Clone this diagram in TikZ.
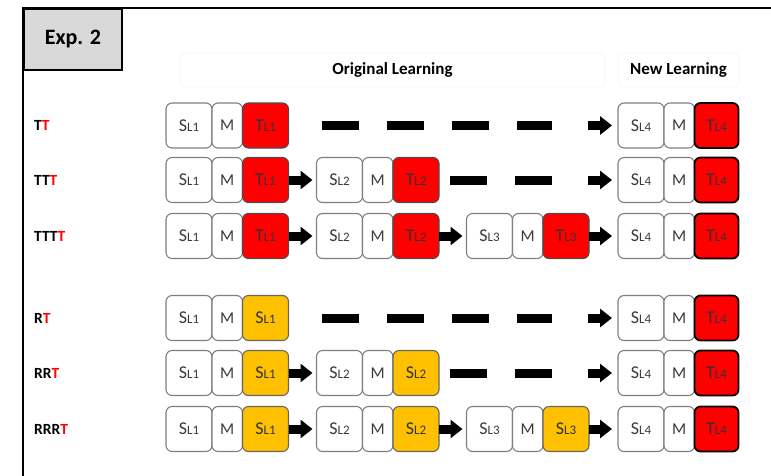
\documentclass[tikz,border=0pt]{standalone}
\usepackage{fontspec}
\setmainfont{Carlito}
\usetikzlibrary{arrows.meta}
\definecolor{tred}{HTML}{FF0000}
\definecolor{ryel}{HTML}{FFC000}
\definecolor{bgray}{HTML}{7F7F7F}
\definecolor{txt}{HTML}{3A3A3A}
\definecolor{expgray}{HTML}{D9D9D9}
\definecolor{hdr}{HTML}{F3F3F3}
\definecolor{lblred}{HTML}{FF0000}
\newcommand\lab[2]{{\fontsize{18}{18}\selectfont #1}{\fontsize{13}{13}\selectfont #2}}
\tikzset{
 cell/.style={rectangle, rounded corners=6pt, draw=bgray, line width=1.1pt, minimum height=45pt, inner sep=0pt, outer sep=0pt, anchor=west, text=txt, font=\fontsize{16.5}{16.5}\selectfont},
 scell/.style={cell, fill=white, minimum width=46pt},
 mcell/.style={cell, fill=white, minimum width=30.5pt},
 tcell/.style={cell, fill=tred, draw=black!70, minimum width=46pt, text=black!80},
 rcell/.style={cell, fill=ryel, draw=black!60, minimum width=46pt, text=black!80},
 fcell/.style={cell, fill=tred, draw=black, line width=1.8pt, minimum width=44pt, text=black!80},
 dashbar/.style={rectangle, fill=black, minimum width=37pt, minimum height=9pt, inner sep=0pt, outer sep=0pt},
 blockarrow/.style={line width=9pt, -{Triangle[length=12pt,width=18pt]}},
 rowlab/.style={anchor=west, inner sep=0pt, font=\bfseries\fontsize{15.5}{15.5}\selectfont},
 hdrbox/.style={draw=hdr, rounded corners=5pt, line width=0.6pt, minimum height=34pt, inner sep=0pt, font=\bfseries\fontsize{17}{17}\selectfont},
}
% prefix, x, y, S index, third style, third text
\newcommand\grp[6]{%
 \node[scell] (#1s) at (#2,#3) {\lab{S}{L#4}};
 \node[mcell] (#1m) at (#1s.east) {M};
 \node[#5] (#1t) at (#1m.east) {#6};
}
\begin{document}
\begin{tikzpicture}[x=1pt,y=-1pt]
\useasboundingbox (0,0) rectangle (771,475);
% frame
\draw[line width=2pt] (23,476) -- (23,8) -- (772,8);
\node[draw, line width=2pt, fill=expgray, minimum width=98pt, minimum height=61pt, inner sep=0pt, anchor=north west, font=\bfseries\fontsize{22}{22}\selectfont] (exp) at (23,8) {Exp. 2};
% headers
\node[hdrbox, minimum width=425pt] (orig) at (392.5,70) {Original Learning};
\node[hdrbox, minimum width=121pt] (new) at (678.5,70) {New Learning};
% row labels
\node[rowlab] (l1) at (34,125.5) {T\textcolor{lblred}{T}};
\node[rowlab] (l2) at (34,180) {TT\textcolor{lblred}{T}};
\node[rowlab] (l3) at (34,236) {TTT\textcolor{lblred}{T}};
\node[rowlab] (l4) at (34,318) {R\textcolor{lblred}{T}};
\node[rowlab] (l5) at (34,373) {RR\textcolor{lblred}{T}};
\node[rowlab] (l6) at (34,429) {RRR\textcolor{lblred}{T}};
% row 1: TT
\grp{ra}{166}{125.5}{1}{tcell}{\lab{T}{L1}}
\grp{rd}{618}{125.5}{4}{fcell}{\lab{T}{L4}}
\node[dashbar] (d1a) at (340.5,125.5) {};
\node[dashbar] (d1b) at (405.5,125.5) {};
\node[dashbar] (d1c) at (470.5,125.5) {};
\node[dashbar, minimum width=35pt] (d1d) at (534.5,125.5) {};
\coordinate (c1) at (588,125.5);
\draw[blockarrow, shorten >=6pt] (c1) -- (rds.west);
% row 2: TTT
\grp{sa}{166}{180}{1}{tcell}{\lab{T}{L1}}
\grp{sb}{316.5}{180}{2}{tcell}{\lab{T}{L2}}
\grp{sd}{618}{180}{4}{fcell}{\lab{T}{L4}}
\draw[blockarrow, shorten >=4pt] (sat.east) -- (sbs.west);
\node[dashbar] (d2a) at (468.5,180) {};
\node[dashbar] (d2b) at (533.5,180) {};
\coordinate (c2) at (588,180);
\draw[blockarrow, shorten >=6pt] (c2) -- (sds.west);
% row 3: TTTT
\grp{ta}{166}{236}{1}{tcell}{\lab{T}{L1}}
\grp{tb}{316.5}{236}{2}{tcell}{\lab{T}{L2}}
\grp{tc}{466.5}{236}{3}{tcell}{\lab{T}{L3}}
\grp{td}{618}{236}{4}{fcell}{\lab{T}{L4}}
\draw[blockarrow, shorten >=4pt] (tat.east) -- (tbs.west);
\draw[blockarrow, shorten >=4pt] (tbt.east) -- (tcs.west);
\draw[blockarrow, shorten >=6pt] (tct.east) -- (tds.west);
% row 4: RT
\grp{ua}{166}{318}{1}{rcell}{\lab{S}{L1}}
\grp{ud}{618}{318}{4}{fcell}{\lab{T}{L4}}
\node[dashbar] (d4a) at (340.5,318) {};
\node[dashbar] (d4b) at (405.5,318) {};
\node[dashbar] (d4c) at (470.5,318) {};
\node[dashbar, minimum width=35pt] (d4d) at (534.5,318) {};
\coordinate (c4) at (588,318);
\draw[blockarrow, shorten >=6pt] (c4) -- (uds.west);
% row 5: RRT
\grp{va}{166}{373}{1}{rcell}{\lab{S}{L1}}
\grp{vb}{316.5}{373}{2}{rcell}{\lab{S}{L2}}
\grp{vd}{618}{373}{4}{fcell}{\lab{T}{L4}}
\draw[blockarrow, shorten >=4pt] (vat.east) -- (vbs.west);
\node[dashbar] (d5a) at (468.5,373) {};
\node[dashbar] (d5b) at (533.5,373) {};
\coordinate (c5) at (588,373);
\draw[blockarrow, shorten >=6pt] (c5) -- (vds.west);
% row 6: RRRT
\grp{wa}{166}{429}{1}{rcell}{\lab{S}{L1}}
\grp{wb}{316.5}{429}{2}{rcell}{\lab{S}{L2}}
\grp{wc}{466.5}{429}{3}{rcell}{\lab{S}{L3}}
\grp{wd}{618}{429}{4}{fcell}{\lab{T}{L4}}
\draw[blockarrow, shorten >=4pt] (wat.east) -- (wbs.west);
\draw[blockarrow, shorten >=4pt] (wbt.east) -- (wcs.west);
\draw[blockarrow, shorten >=6pt] (wct.east) -- (wds.west);
\end{tikzpicture}
\end{document}
